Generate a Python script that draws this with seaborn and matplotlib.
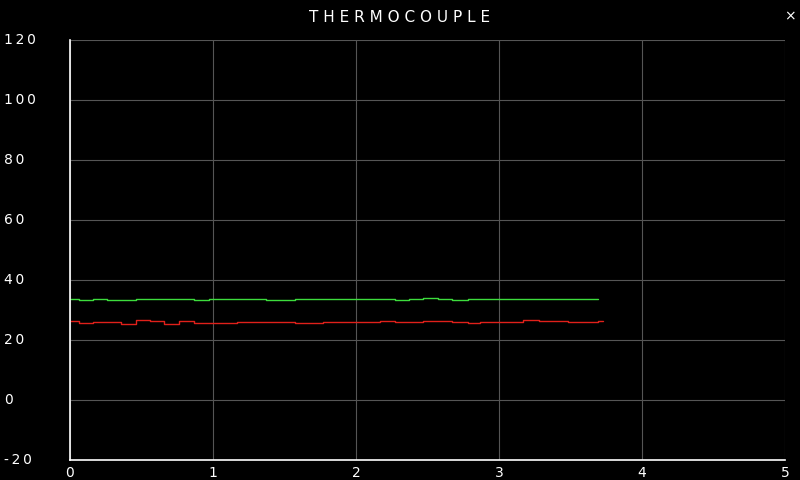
import numpy as np
import pandas as pd
import matplotlib
matplotlib.use("Agg")
import matplotlib.pyplot as plt
import seaborn as sns

# step start times (s) and values
green_x = [0, 0.06, 0.16, 0.26, 0.46, 0.76, 0.87, 0.97, 1.06, 1.17, 1.37, 1.47, 1.57,
           2.27, 2.37, 2.47, 2.57, 2.67, 2.78, 3.69]
green_y = [33.7, 33.4, 33.6, 33.4, 33.7, 33.8, 33.4, 33.7, 33.8, 33.7, 33.2, 33.4, 33.7,
           33.3, 33.8, 34.0, 33.7, 33.3, 33.7, 33.7]
red_x = [0, 0.06, 0.16, 0.36, 0.46, 0.56, 0.66, 0.76, 0.87, 1.17, 1.57, 1.77, 2.17,
         2.27, 2.47, 2.67, 2.78, 2.87, 3.17, 3.28, 3.48, 3.69, 3.73]
red_y = [26.3, 25.8, 26.0, 25.2, 26.6, 26.3, 25.2, 26.3, 25.8, 26.0, 25.8, 26.0, 26.3,
         26.0, 26.3, 26.0, 25.8, 26.0, 26.6, 26.3, 26.0, 26.3, 26.3]
y_ticks = [-20, 0, 20, 40, 60, 80, 100, 120]
x_ticks = [0, 1, 2, 3, 4, 5]

sns.set_theme(style="dark")
plt.rcParams['font.family'] = ['DejaVu Sans']

fig = plt.figure(figsize=(8, 4.8), dpi=100, facecolor="black")
ax = fig.add_axes([70 / 800, 20 / 480, 715 / 800, 420 / 480])
ax.set_facecolor("black")

sns.lineplot(x=green_x, y=green_y, ax=ax, color="#3ddc3d", linewidth=1, drawstyle="steps-post")
sns.lineplot(x=red_x, y=red_y, ax=ax, color="#e0201a", linewidth=1, drawstyle="steps-post")

ax.set_xlim(0, 5)
ax.set_ylim(-20, 120)
ax.set_xticks(x_ticks)
ax.set_yticks(y_ticks)
ax.grid(True, color="#555555", linewidth=0.8)
for s in ["top", "right"]:
    ax.spines[s].set_visible(False)
for s in ["left", "bottom"]:
    ax.spines[s].set_color("white")
    ax.spines[s].set_linewidth(1.2)
ax.tick_params(axis="x", colors="white", labelsize=10, length=0, pad=4)
ax.set_yticklabels([])
ax.tick_params(axis="y", length=0)
for v in y_ticks:
    ax.text(-66 / 715 * 5, v, "\u2009".join(str(v)), color="white", fontsize=10,
            ha="left", va="center", transform=ax.transData, clip_on=False)

fig.text(0.5, 1 - 18 / 480, "T H E R M O C O U P L E", color="white", fontsize=11,
         ha="center", va="center")
fig.text(790 / 800, 1 - 16 / 480, "×", color="white", fontsize=10, ha="center", va="center")

fig.savefig("out.png", facecolor="black")
